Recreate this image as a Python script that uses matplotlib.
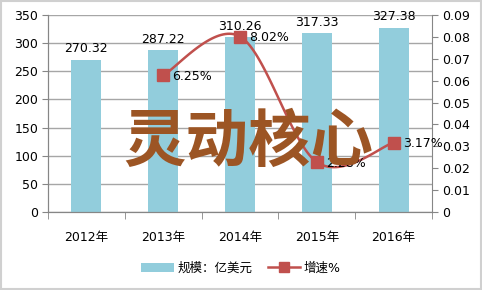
import matplotlib
matplotlib.use("Agg")
import matplotlib.pyplot as plt
import numpy as np
from matplotlib.lines import Line2D
from matplotlib.patches import Patch, Rectangle

plt.rcParams['font.family'] = ['DejaVu Sans', 'Noto Sans CJK SC']

categories = ['2012年', '2013年', '2014年', '2015年', '2016年']
scale = [270.32, 287.22, 310.26, 317.33, 327.38]
growth = [None, 0.0625, 0.0802, 0.0228, 0.0317]
growth_labels = ['', '6.25%', '8.02%', '2.28%', '3.17%']
bar_labels = ['270.32', '287.22', '310.26', '317.33', '327.38']
left_ticks = [0, 50, 100, 150, 200, 250, 300, 350]
right_ticks = [0, 0.01, 0.02, 0.03, 0.04, 0.05, 0.06, 0.07, 0.08, 0.09]

bar_color = '#92CDDC'
line_color = '#C0504D'
grid_color = '#A6A6A6'
axis_color = '#868686'

fig = plt.figure(figsize=(4.82, 2.90), dpi=100)
fig.patches.append(Rectangle((0.002, 0.003), 0.995, 0.993, transform=fig.transFigure,
                             fill=False, edgecolor='#D0D0D0', linewidth=1.5))
ax = fig.add_axes([0.0996, 0.269, 0.7968, 0.679])
ax2 = ax.twinx()

x = np.arange(len(categories))
ax.bar(x, scale, width=0.39, color=bar_color, zorder=2)
ax.set_xlim(-0.5, len(categories) - 0.5)
ax.set_ylim(0, 350)
ax.set_yticks(left_ticks)
ax.set_yticklabels([str(t) for t in left_ticks], fontsize=9)
ax.yaxis.grid(True, color=grid_color, linewidth=1)
ax.set_axisbelow(True)
ax.set_xticks(x)
ax.set_xticklabels(categories, fontsize=9)
ax.tick_params(axis='x', which='major', length=0, pad=14)
ax.set_xticks(np.arange(-0.5, len(categories)), minor=True)
ax.tick_params(axis='x', which='minor', length=5, color=axis_color)
ax.tick_params(axis='y', length=4, color=axis_color, pad=3)
for s in ['top']:
    ax.spines[s].set_visible(False)
    ax2.spines[s].set_visible(False)
for s in ['left', 'bottom', 'right']:
    ax.spines[s].set_color(axis_color)
    ax2.spines[s].set_color(axis_color)
ax.spines['right'].set_visible(False)

for xi, v, lab in zip(x, scale, bar_labels):
    ax.text(xi, v + 8, lab, ha='center', va='bottom', fontsize=9, zorder=5)

ax2.set_ylim(0, 0.09)
ax2.set_yticks(right_ticks)
ax2.set_yticklabels(['0'] + ['%.2f' % t for t in right_ticks[1:]], fontsize=9)
ax2.tick_params(axis='y', length=4, color=axis_color, pad=3)

# smoothed line (Excel-like bezier) computed in display space
gx = np.array([xi for xi, g in zip(x, growth) if g is not None], dtype=float)
gy = np.array([g for g in growth if g is not None], dtype=float)
fig.canvas.draw()
pts = ax2.transData.transform(np.column_stack([gx, gy]))
curve = []
n = len(pts)
for i in range(n - 1):
    p0 = pts[i - 1] if i > 0 else pts[i]
    p1 = pts[i]
    p2 = pts[i + 1]
    p3 = pts[i + 2] if i + 2 < n else pts[i + 1]
    c1 = p1 + (p2 - p0) / 6.0
    c2 = p2 - (p3 - p1) / 6.0
    t = np.linspace(0, 1, 40)[:, None]
    seg = (1 - t) ** 3 * p1 + 3 * (1 - t) ** 2 * t * c1 + 3 * (1 - t) * t ** 2 * c2 + t ** 3 * p2
    curve.append(seg)
curve = np.vstack(curve)
curve_data = ax2.transData.inverted().transform(curve)
ax2.plot(curve_data[:, 0], curve_data[:, 1], color=line_color, linewidth=1.8, zorder=3)
ax2.plot(gx, gy, linestyle='none', marker='s', markersize=8, color=line_color, zorder=4)
for xi, g, lab in zip(x, growth, growth_labels):
    if g is not None:
        ax2.text(xi + 0.12, g - 0.0005, lab, ha='left', va='center', fontsize=9, zorder=5)

fig.text(0.516, 0.51, '灵动核心', ha='center', va='center', fontsize=45,
         fontweight='bold', color='#9C5524', family=['Noto Sans CJK SC'], zorder=10)

handles = [Patch(facecolor=bar_color, edgecolor='none'),
           Line2D([0], [0], color=line_color, linewidth=1.8, marker='s', markersize=7)]
fig.legend(handles, ['规模：亿美元', '增速%'], loc='center', bbox_to_anchor=(0.5, 0.075),
           ncol=2, frameon=False, fontsize=9, handlelength=2.6, columnspacing=1.2,
           handletextpad=0.3)

fig.savefig('out.png', dpi=100)
